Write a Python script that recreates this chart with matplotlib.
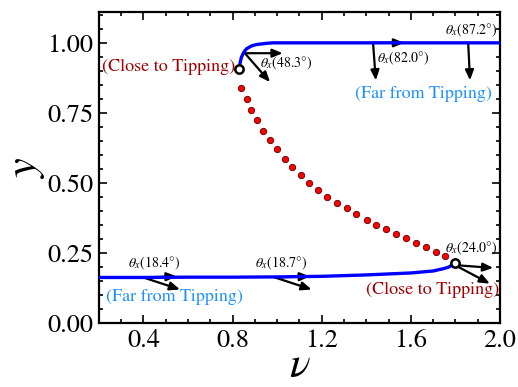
import matplotlib
matplotlib.use("Agg")
import matplotlib.pyplot as plt
from matplotlib.ticker import MultipleLocator

plt.rcParams["font.family"] = "STIXGeneral"
plt.rcParams["mathtext.fontset"] = "stix"

# stable upper branch
upper_nu = [0.830, 0.834, 0.840, 0.850, 0.863, 0.885, 0.908, 0.950, 0.981, 1.10, 1.50, 2.00]
upper_y = [0.907, 0.930, 0.949, 0.966, 0.979, 0.989, 0.994, 0.998, 1.000, 1.000, 1.000, 1.000]

# stable lower branch
lower_nu = [0.20, 0.40, 0.60, 0.80, 1.00, 1.20, 1.40, 1.60, 1.70, 1.75, 1.77, 1.785, 1.798]
lower_y = [0.163, 0.163, 0.164, 0.164, 0.165, 0.167, 0.172, 0.179, 0.186, 0.195, 0.200, 0.207, 0.216]

# unstable middle branch (dots)
mid_nu = [0.840, 0.863, 0.882, 0.908, 0.937, 0.967, 1.000, 1.035, 1.069, 1.105, 1.143,
          1.184, 1.225, 1.267, 1.312, 1.356, 1.402, 1.443, 1.488, 1.533, 1.578, 1.623,
          1.668, 1.713, 1.753]
mid_y = [0.838, 0.799, 0.761, 0.725, 0.687, 0.654, 0.620, 0.587, 0.558, 0.529, 0.501,
         0.475, 0.451, 0.429, 0.409, 0.389, 0.368, 0.350, 0.335, 0.318, 0.303, 0.287,
         0.270, 0.255, 0.240]

fold_nu = [0.830, 1.798]
fold_y = [0.907, 0.216]

# arrows: start and end points
arrow_x0 = [0.855, 0.855, 1.431, 1.431, 1.858, 0.399, 0.399, 0.990, 0.990, 1.798, 1.798]
arrow_y0 = [0.963, 0.963, 0.996, 1.000, 0.996, 0.163, 0.163, 0.163, 0.163, 0.207, 0.207]
arrow_x1 = [1.025, 0.968, 1.443, 1.570, 1.866, 0.549, 0.564, 1.147, 1.155, 1.970, 1.955]
arrow_y1 = [0.963, 0.860, 0.866, 1.000, 0.866, 0.167, 0.120, 0.167, 0.120, 0.197, 0.141]

angle_labels = [r"$\theta_x(48.3°)$", r"$\theta_x(82.0°)$", r"$\theta_x(87.2°)$",
                r"$\theta_x(18.4°)$", r"$\theta_x(18.7°)$", r"$\theta_x(24.0°)$"]
angle_x = [0.923, 1.448, 1.753, 0.329, 0.900, 1.753]
angle_y = [0.926, 0.944, 1.044, 0.214, 0.214, 0.268]

fig = plt.figure(figsize=(5.18, 3.87), dpi=100)
ax = fig.add_axes([0.191, 0.165, 0.774, 0.804])

for x0, y0, x1, y1 in zip(arrow_x0, arrow_y0, arrow_x1, arrow_y1):
    ax.annotate("", xy=(x1, y1), xytext=(x0, y0),
                arrowprops=dict(arrowstyle="-|>,head_length=0.6,head_width=0.25",
                                color="black", lw=1.6, shrinkA=0, shrinkB=0),
                zorder=2)

ax.plot(upper_nu, upper_y, color="#0000ff", lw=2.4, zorder=3, solid_capstyle="butt")
ax.plot(lower_nu, lower_y, color="#0000ff", lw=2.4, zorder=3, solid_capstyle="butt")
ax.plot(mid_nu, mid_y, "o", color="#ff0000", markersize=4.6, markeredgecolor="#5a0000",
        markeredgewidth=0.6, zorder=3)
ax.plot(fold_nu, fold_y, "o", markerfacecolor="white", markeredgecolor="black",
        markersize=6, markeredgewidth=1.8, zorder=4)

for lab, x, y in zip(angle_labels, angle_x, angle_y):
    ax.text(x, y, lab, fontsize=10, ha="left", va="center", zorder=5)

ax.text(0.810, 0.913, "(Close to Tipping)", color="#a00000", fontsize=13,
        ha="right", va="center")
ax.text(1.697, 0.120, "(Close to Tipping)", color="#a00000", fontsize=13,
        ha="center", va="center")
ax.text(1.657, 0.818, "(Far from Tipping)", color="#1e90ff", fontsize=13,
        ha="center", va="center")
ax.text(0.541, 0.092, "(Far from Tipping)", color="#1e90ff", fontsize=13,
        ha="center", va="center")

ax.set_xlim(0.2, 2.0)
ax.set_ylim(0.0, 1.11)
ax.xaxis.set_major_locator(MultipleLocator(0.4))
ax.xaxis.set_minor_locator(MultipleLocator(0.1))
ax.yaxis.set_major_locator(MultipleLocator(0.25))
ax.yaxis.set_minor_locator(MultipleLocator(0.05))
ax.set_xticks([0.4, 0.8, 1.2, 1.6, 2.0])
ax.set_xticklabels(["0.4", "0.8", "1.2", "1.6", "2.0"])
ax.set_yticks([0.0, 0.25, 0.5, 0.75, 1.0])
ax.set_yticklabels(["0.00", "0.25", "0.50", "0.75", "1.00"])
ax.tick_params(which="both", direction="in", top=True, right=True, width=1.2,
               labelsize=19, pad=4)
ax.tick_params(which="major", length=6)
ax.tick_params(which="minor", length=3)
for s in ax.spines.values():
    s.set_linewidth(1.6)

ax.set_xlabel(r"$\nu$", fontsize=31, labelpad=-4)
ax.set_ylabel(r"$y$", fontsize=32, labelpad=0)

fig.savefig("out.png", dpi=100)
